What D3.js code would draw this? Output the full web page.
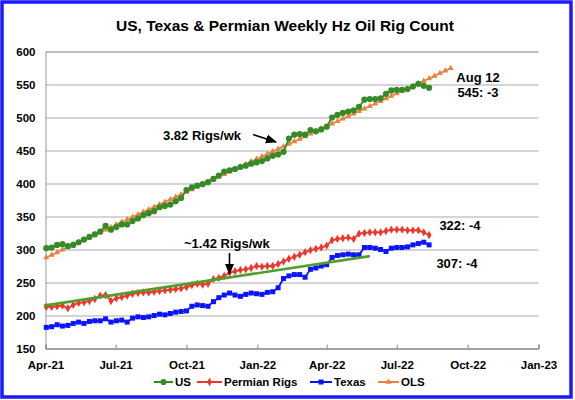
<!DOCTYPE html>
<html>
<head>
<meta charset="utf-8">
<script src="https://cdn.jsdelivr.net/npm/d3@7"></script>
<style>
html,body{margin:0;padding:0;background:#fff;}
svg{display:block;font-family:"Liberation Sans",Arial,sans-serif;}
</style>
</head>
<body>
<svg id="c" width="575" height="400"></svg>
<script>
// ---- data ----
const firstWeek = "2021-04-02"; // weekly (Friday) observations
const usRigs = [302,303,307,308,305,307,311,315,319,323,327,336,330,334,338,338,343,347,352,355,358,
  364,366,368,373,378,390,394,397,399,402,407,412,418,420,422,425,427,430,432,434,438,442,444,448,
  468,474,475,474,481,479,482,486,500,504,507,509,511,516,527,528,528,529,536,541,542,542,543,547,551,548,545];
const permianRigs = [213,213,214,215,211,216,219,220,222,225,230,231,222,226,228,230,233,234,235,235,236,237,238,
  239,240,241,243,246,248,247,248,255,257,260,265,267,269,270,272,275,274,275,275,278,282,286,289,292,296,299,301,
  303,306,314,316,317,318,316,324,325,326,326,326,328,330,330,330,329,329,329,326,322];
const texasRigs = [182,183,186,184,185,188,190,188,191,192,192,195,190,192,193,190,196,198,197,198,200,202,201,
  203,205,206,207,214,216,215,214,221,227,231,234,231,229,232,234,233,232,235,236,242,256,260,262,262,258,270,272,
  275,277,288,291,292,293,292,292,303,303,302,300,297,302,303,303,304,307,309,311,307];
const olsUS = [288.0,291.8,295.6,299.5,303.3,307.1,310.9,314.7,318.6,322.4,326.2,330.0,333.8,337.7,341.5,345.3,
  349.1,352.9,356.8,360.6,364.4,368.2,372.0,375.9,379.7,383.5,387.3,391.1,395.0,398.8,402.6,406.4,410.2,414.1,
  417.9,421.7,425.5,429.3,433.2,437.0,440.8,444.6,448.4,452.3,456.1,459.9,463.7,467.5,471.4,475.2,479.0,482.8,
  486.6,490.5,494.3,498.1,501.9,505.7,509.6,513.4,517.2,521.0,524.8,528.7,532.5,536.3,540.1,543.9,547.8,551.6,
  555.4,559.2,563.0,566.9,570.7,574.5];
const permianTrend = [{date:"2021-03-30", v:215},{date:"2022-05-27", v:290}];
const yTicks = [150,200,250,300,350,400,450,500,550,600];
const xTickDates = ["2021-04-01","2021-07-01","2021-10-01","2022-01-01","2022-04-01","2022-07-01","2022-10-01","2023-01-01"];
const legendNames = ["US","Permian Rigs","Texas","OLS"];

// ---- build ----
const parse = d3.timeParse("%Y-%m-%d");
const t0 = parse(firstWeek);
const wk = (arr) => arr.map((v,i)=>({date:d3.timeDay.offset(t0, 7*i), v}));

const svg = d3.select("#c");
const L=45.5, R=538.5, T=51.5, B=348.5;
const x = d3.scaleTime().domain([parse("2021-04-01"), parse("2023-01-01")]).range([L,R]);
const y = d3.scaleLinear().domain([150,600]).range([B,T]);

// border
svg.append("rect").attr("x",2).attr("y",2).attr("width",569).attr("height",395)
  .attr("fill","#fff").attr("stroke","#1a1aff").attr("stroke-width",3.5);

// title
svg.append("text").attr("x",285).attr("y",31).attr("text-anchor","middle")
  .attr("font-size",15.5).attr("font-weight","bold").text("US, Texas & Permian Weekly Hz Oil Rig Count");

// gridlines
const yAxis = d3.axisLeft(y).tickValues(yTicks).tickSize(-(R-L)).tickPadding(10).tickFormat(d3.format("d"));
const gy = svg.append("g").attr("transform",`translate(${L},0)`).call(yAxis);
gy.select(".domain").attr("stroke","#999");
gy.selectAll(".tick line").attr("stroke","#aaa").attr("stroke-width",1.2);
gy.selectAll(".tick text").attr("font-size",11.5).attr("font-weight","bold").attr("fill","#000")
  .attr("font-family","Liberation Sans, Arial, sans-serif").attr("x",-10);

const xAxis = d3.axisBottom(x).tickValues(xTickDates.map(parse)).tickSize(-4).tickPadding(10)
  .tickFormat(d3.timeFormat("%b-%y"));
const gx = svg.append("g").attr("transform",`translate(0,${B})`).call(xAxis);
gx.select(".domain").attr("stroke","#888").attr("stroke-width",1.2);
gx.selectAll(".tick line").attr("stroke","#888");
gx.selectAll(".tick text").attr("font-size",11.5).attr("font-weight","bold").attr("fill","#000")
  .attr("font-family","Liberation Sans, Arial, sans-serif").attr("dy","0.9em");

const line = d3.line().x(d=>x(d.date)).y(d=>y(d.v));

const cUS="#378a28", cPer="#f2352a", cTx="#0a14ff", cOLS="#e8823c", cTrend="#4f9e2a";

function marker(g, type, color, cx, cy){
  if(type==="circle") g.append("circle").attr("cx",cx).attr("cy",cy).attr("r",3.1).attr("fill",color);
  else if(type==="square") g.append("rect").attr("x",cx-2.5).attr("y",cy-2.5).attr("width",5).attr("height",5).attr("fill",color);
  else if(type==="diamond") g.append("path").attr("d",d3.symbol(d3.symbolDiamond,20)()).attr("transform",`translate(${cx},${cy})`).attr("fill",color);
  else if(type==="tri") g.append("path").attr("d",d3.symbol(d3.symbolTriangle,16)()).attr("transform",`translate(${cx},${cy})`).attr("fill",color);
}
function series(arr, color, type, w){
  const data = wk(arr);
  const g = svg.append("g");
  g.append("path").datum(data).attr("d",line).attr("fill","none").attr("stroke",color).attr("stroke-width",w);
  data.forEach(d=>marker(g,type,color,x(d.date),y(d.v)));
}

series(texasRigs, cTx, "square", 1.8);
series(permianRigs, cPer, "diamond", 1.8);
series(olsUS, cOLS, "tri", 1.6);
series(usRigs, cUS, "circle", 1.8);

// permian trend line
svg.append("path").datum(permianTrend.map(d=>({date:parse(d.date),v:d.v})))
  .attr("d",line).attr("stroke",cTrend).attr("stroke-width",2.6).attr("fill","none");

// annotations
const ann = (tx,ax,ay,anchor)=>svg.append("text").attr("x",ax).attr("y",ay).attr("font-size",13)
  .attr("font-weight","bold").attr("text-anchor",anchor||"start").text(tx);
ann("Aug 12",478,82,"middle");
ann("545: -3",478,97,"middle");
ann("322: -4",460,230,"middle");
ann("307: -4",457,268,"middle");
ann("3.82 Rigs/wk",163,140);
ann("~1.42 Rigs/wk",184,248);

svg.append("defs").append("marker").attr("id","ah").attr("viewBox","0 0 10 10").attr("refX",9).attr("refY",5)
  .attr("markerWidth",7).attr("markerHeight",7).attr("orient","auto")
  .append("path").attr("d","M0,1 L10,5 L0,9 z").attr("fill","#000");
svg.append("line").attr("x1",253).attr("y1",134.5).attr("x2",276).attr("y2",142)
  .attr("stroke","#000").attr("stroke-width",1.6).attr("marker-end","url(#ah)");
svg.append("line").attr("x1",229.5).attr("y1",253).attr("x2",229.5).attr("y2",274)
  .attr("stroke","#000").attr("stroke-width",1.6).attr("marker-end","url(#ah)");

// legend
const legColors=[cUS,cPer,cTx,cOLS], legTypes=["circle","diamond","square","tri"];
const legX=[154,197,310,378], legW=[19,25,22,21];
const lg = svg.append("g");
legendNames.forEach((n,i)=>{
  const ly=382;
  lg.append("line").attr("x1",legX[i]).attr("x2",legX[i]+legW[i]).attr("y1",ly).attr("y2",ly)
    .attr("stroke",legColors[i]).attr("stroke-width",2);
  marker(lg,legTypes[i],legColors[i],legX[i]+legW[i]/2,ly);
  lg.append("text").attr("x",legX[i]+legW[i]+2).attr("y",ly+4.2).attr("font-size",11.5).attr("font-weight","bold").text(n);
});
</script>
</body>
</html>
